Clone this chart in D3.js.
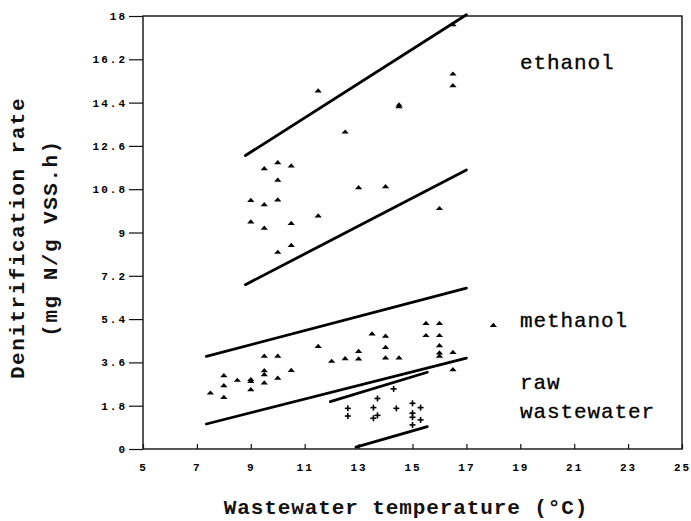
<!DOCTYPE html>
<html><head><meta charset="utf-8">
<script src="https://cdn.jsdelivr.net/npm/d3@7"></script>
<style>body{margin:0;background:#fff}svg{display:block}</style>
</head><body><svg id="c" width="691" height="521"></svg>
<script>
const xTicks=[5,7,9,11,13,15,17,19,21,23,25];
const yTicks=[0,1.8,3.6,5.4,7.2,9,10.8,12.6,14.4,16.2,18];
const yTickLabels=["0","1.8","3.6","5.4","7.2","9","10.8","12.6","14.4","16.2","18"];
const ethanolX=[9.5,10,10.5,10,9,9.5,10,9,9.5,10.5,11.5,10.5,10,11.5,12.5,13,14,14.5,14.5,16,16.5,16.5,16.5];
const ethanolY=[11.65,11.9,11.76,11.17,10.33,10.15,10.35,9.43,9.17,9.37,9.68,8.46,8.17,14.88,13.17,10.86,10.9,14.22,14.3,9.99,17.63,15.58,15.1];
const methanolX=[7.5,8,8,8,8.5,9,9,9,9.5,9.5,9.5,9.5,10,10,10.5,11.5,12,12.5,13,13,13.5,14,14,14,14.5,15.5,16,15.5,16,16,16,16,16.5,16.5];
const methanolY=[2.32,3.04,2.63,2.14,2.85,2.8,2.88,2.46,3.85,3.25,3.08,2.74,3.85,2.94,3.26,4.26,3.64,3.75,4.05,3.74,4.78,4.68,4.22,3.78,3.78,5.21,5.21,4.71,4.71,4.29,3.99,3.85,4.01,3.29];
const rawX=[12.6,12.6,13.55,13.7,13.55,13.7,14.3,14.4,15,15.3,15,15,15.3,15];
const rawY=[1.69,1.37,1.72,2.1,1.28,1.4,2.5,1.69,1.9,1.72,1.49,1.32,1.21,1.0];
const lineX1=[8.8,8.8,7.35,7.35,11.95,12.9];
const lineY1=[12.2,6.83,3.85,1.04,1.97,0.08];
const lineX2=[17,17,17,17,15.55,15.55];
const lineY2=[18.05,11.6,6.69,3.78,3.19,0.93];
const legendLabels=["ethanol","methanol","raw","wastewater"];
const legendMarkerX=[18], legendMarkerY=[5.13];

const svg=d3.select("#c");
const x=d3.scaleLinear().domain([5,25]).range([143,682]);
const y=d3.scaleLinear().domain([0,18]).range([449,16]);
const mono="'Liberation Mono','DejaVu Sans Mono',monospace";

// frame
svg.append("rect").attr("x",x(5)).attr("y",y(18)).attr("width",x(25)-x(5)).attr("height",y(0)-y(18))
  .attr("fill","none").attr("stroke","#111").attr("stroke-width",1.4);

// y axis
const ya=svg.append("g").attr("transform",`translate(${x(5)},0)`)
  .call(d3.axisLeft(y).tickValues(yTicks).tickSize(14).tickPadding(2).tickFormat((d,i)=>yTickLabels[i]));
ya.select(".domain").remove();
ya.selectAll("line").attr("stroke","#111").attr("stroke-width",1.2);
ya.selectAll("text").attr("font-family",mono).attr("font-size",11).attr("font-weight","bold")
  .attr("letter-spacing","2px").attr("fill","#000");

// x axis
const xa=svg.append("g").attr("transform",`translate(0,${y(0)})`)
  .call(d3.axisBottom(x).tickValues(xTicks).tickSize(-5).tickPadding(14).tickFormat(d3.format("d")));
xa.select(".domain").remove();
xa.selectAll("line").attr("stroke","#111").attr("stroke-width",1.2);
xa.selectAll("text").attr("font-family",mono).attr("font-size",11).attr("font-weight","bold")
  .attr("letter-spacing","2px").attr("fill","#000");

// regression lines
const lines=lineX1.map((d,i)=>({x1:d,y1:lineY1[i],x2:lineX2[i],y2:lineY2[i]}));
svg.append("g").selectAll("line").data(lines).join("line")
  .attr("x1",d=>x(d.x1)).attr("y1",d=>y(d.y1)).attr("x2",d=>x(d.x2)).attr("y2",d=>y(d.y2))
  .attr("stroke","#000").attr("stroke-width",2.8).attr("stroke-linecap","round");

// triangles
const tri=d3.symbol().type(d3.symbolTriangle).size(16);
const triPts=ethanolX.map((d,i)=>[d,ethanolY[i]]).concat(methanolX.map((d,i)=>[d,methanolY[i]])).concat(legendMarkerX.map((d,i)=>[d,legendMarkerY[i]]));
svg.append("g").selectAll("path").data(triPts).join("path")
  .attr("d",tri).attr("transform",d=>`translate(${x(d[0])},${y(d[1])}) scale(1.2,0.8)`).attr("fill","#000");

// crosses
const rawPts=rawX.map((d,i)=>[d,rawY[i]]);
const cg=svg.append("g").attr("stroke","#000").attr("stroke-width",1.6);
cg.selectAll("g").data(rawPts).join("g").attr("transform",d=>`translate(${x(d[0])},${y(d[1])})`)
  .each(function(){const g=d3.select(this);
    g.append("line").attr("x1",-3).attr("x2",3).attr("y1",0).attr("y2",0);
    g.append("line").attr("x1",0).attr("x2",0).attr("y1",-3).attr("y2",3);});

// legend texts
const legPos=[[520,69],[520,327],[520,389],[520,418]];
svg.append("g").selectAll("text").data(legendLabels).join("text")
  .attr("x",(d,i)=>legPos[i][0]).attr("y",(d,i)=>legPos[i][1])
  .attr("font-family",mono).attr("font-size",21).attr("letter-spacing","0.9px").attr("fill","#000")
  .attr("stroke","#000").attr("stroke-width",0.3)
  .text(d=>d);

// axis titles
svg.append("text").attr("x",406).attr("y",514).attr("text-anchor","middle")
  .attr("font-family",mono).attr("font-size",21).attr("font-weight","bold").attr("letter-spacing","0.9px").attr("fill","#111")
  .text("Wastewater temperature (°C)");
const yl=svg.append("g").attr("transform","translate(0,238) rotate(-90)");
yl.append("text").attr("x",0).attr("y",24).attr("text-anchor","middle")
  .attr("font-family",mono).attr("font-size",21).attr("font-weight","bold").attr("letter-spacing","1.5px").attr("fill","#111")
  .text("Denitrification rate");
yl.append("text").attr("x",0).attr("y",57).attr("text-anchor","middle")
  .attr("font-family",mono).attr("font-size",21).attr("font-weight","bold").attr("letter-spacing","1.5px").attr("fill","#111")
  .text("(mg N/g VSS.h)");
</script></body></html>
